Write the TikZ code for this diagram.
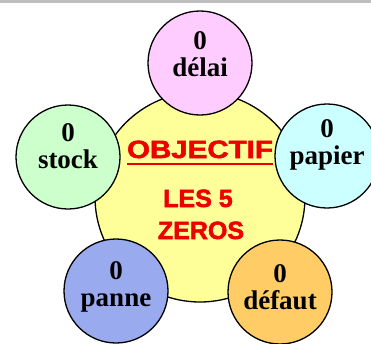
\documentclass[tikz,border=0pt]{standalone}
\usepackage{fontspec}
\setmainfont{Liberation Serif}
\newfontfamily\grasfont[FakeBold=2]{Liberation Sans Bold}
\usetikzlibrary{positioning}
\definecolor{rouge}{RGB}{236,0,0}
\definecolor{jaune}{RGB}{255,255,153}
\definecolor{rose}{RGB}{255,204,255}
\definecolor{ciel}{RGB}{204,255,255}
\definecolor{orange}{RGB}{255,204,102}
\definecolor{mauve}{RGB}{153,170,238}
\definecolor{vert}{RGB}{204,255,204}
\tikzset{x=1pt, y=-1pt, % one unit per pixel, y going down
bubble/.style={circle, draw=black, line width=1.3pt, minimum size=104pt, inner sep=0pt}, % the five small circles
bubbletext/.style={align=center, inner sep=0pt, font=\fontsize{27}{27}\selectfont\bfseries}, % 0 + word
redtext/.style={text=rouge, inner sep=0pt, font=\fontsize{25}{25}\grasfont}, % red words in the middle
}
\begin{document}
\begin{tikzpicture}
  \useasboundingbox (0,0) rectangle (371,343);
  \fill[black!25] (0,0) rectangle (371,3);

  % the big yellow circle
  \node[circle, draw=black, line width=1.3pt, fill=jaune, minimum size=210pt] (centre) at (200,197) {};
  \node[redtext, xscale=1.18, anchor=base] (objectif) at (200,158) {OBJECTIF};
  \draw[rouge, line width=2pt] (objectif.base west) ++(0,6) coordinate (ulw) -- (objectif.base east |- ulw);
  \node[redtext, anchor=base] (les) at (198,207) {LES 5};
  \node[redtext, anchor=base] (zeros) at (201,239) {ZEROS};

  % the five zeros
  \node[bubble, fill=rose] (delai) at (200,63) {};
  \node[bubble, fill=vert] (stock) at (68,157) {};
  \node[bubble, fill=ciel] (papier) at (327,156) {};
  \node[bubble, fill=mauve] (panne) at (116,291) {};
  \node[bubble, fill=orange] (defaut) at (280,292) {};

  \node[bubbletext] (delaiT) at ([yshift=9]delai.center) {0\\délai};
  \node[bubbletext] (stockT) at ([yshift=11]stock.center) {0\\stock};
  \node[bubbletext] (papierT) at ([yshift=11]papier.center) {0\\papier};
  \node[bubbletext] (panneT) at ([yshift=4]panne.center) {0\\panne};
  \node[bubbletext] (defautT) at ([yshift=5]defaut.center) {0\\défaut};
\end{tikzpicture}
\end{document}
